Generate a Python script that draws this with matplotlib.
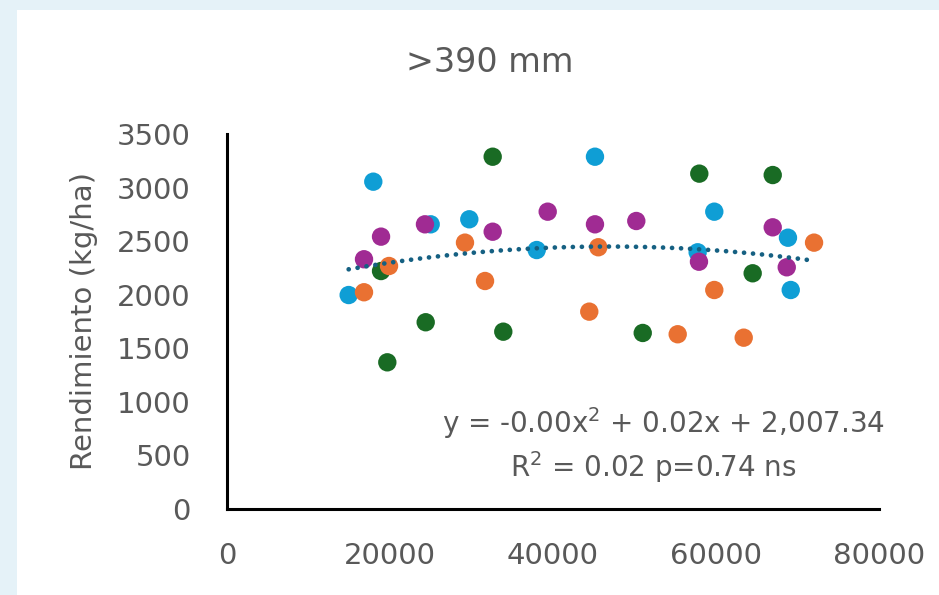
import numpy as np
import matplotlib.pyplot as plt
from matplotlib.patches import Rectangle

# Rendimiento (kg/ha) vs densidad, four groups
blue_x = [14930, 17950, 24990, 29730, 38000, 45150, 59790, 57750, 68830, 69170]
blue_y = [1997, 3055, 2657, 2704, 2417, 3288, 2775, 2396, 2532, 2044]

green_x = [19670, 18900, 24380, 32600, 33900, 51010, 57950, 64500, 66960]
green_y = [1369, 2221, 1743, 3288, 1655, 1643, 3130, 2200, 3117]

orange_x = [16810, 19880, 29200, 31660, 44450, 45560, 55300, 59790, 63400, 72030]
orange_y = [2023, 2268, 2486, 2128, 1842, 2443, 1631, 2044, 1599, 2486]

purple_x = [16810, 18900, 24290, 32600, 39350, 45150, 50220, 57910, 66960, 68680]
purple_y = [2331, 2542, 2657, 2588, 2775, 2657, 2688, 2308, 2629, 2256]

title = ">390 mm"
ylabel = "Rendimiento (kg/ha)"
eq_text = "y = -0.00x$^{2}$ + 0.02x + 2,007.34"
r2_text = "R$^{2}$ = 0.02 p=0.74 ns"

gray = "#595959"
series = [
    (blue_x, blue_y, "#0F9ED5"),
    (green_x, green_y, "#196B24"),
    (orange_x, orange_y, "#E97132"),
    (purple_x, purple_y, "#A02B93"),
]

fig = plt.figure(figsize=(9.39, 5.95), dpi=100)
fig.patch.set_facecolor("white")
# light blue frame along the top and left
fig.patches.append(Rectangle((0, 1 - 10 / 595), 1, 10 / 595, transform=fig.transFigure,
                             facecolor="#E5F2F8", edgecolor="none", zorder=0))
fig.patches.append(Rectangle((0, 0), 17 / 939, 1, transform=fig.transFigure,
                             facecolor="#E5F2F8", edgecolor="none", zorder=0))

ax = fig.add_axes([227 / 939, 86 / 595, 652 / 939, 375 / 595])

for xs, ys, c in series:
    ax.scatter(xs, ys, s=175, color=c, edgecolors="none", zorder=3)

# quadratic trend over all points
all_x = np.array(blue_x + green_x + orange_x + purple_x, dtype=float)
all_y = np.array(blue_y + green_y + orange_y + purple_y, dtype=float)
coef = np.polyfit(all_x, all_y, 2)
xx = np.linspace(all_x.min(), all_x.max(), 200)
ax.plot(xx, np.polyval(coef, xx), color="#156082", lw=3.4,
        linestyle=(0, (0.01, 1.9)), dash_capstyle="round", zorder=4)

ax.set_xlim(0, 80000)
ax.set_ylim(0, 3500)
ax.set_xticks([0, 20000, 40000, 60000, 80000])
ax.set_yticks(range(0, 3501, 500))
ax.tick_params(length=0, labelsize=21, colors=gray)
ax.tick_params(axis="x", pad=24)
ax.tick_params(axis="y", pad=26)
for side in ["top", "right"]:
    ax.spines[side].set_visible(False)
for side in ["left", "bottom"]:
    ax.spines[side].set_linewidth(2.2)
    ax.spines[side].set_color("black")

ax.set_ylabel(ylabel, fontsize=21, color=gray, labelpad=14)
fig.text(490 / 939, 1 - 63 / 595, title, fontsize=24, color=gray, ha="center", va="center")

ax.text(664 / 939, 1 - 423 / 595, eq_text, transform=fig.transFigure, fontsize=20,
        color=gray, ha="center", va="center")
ax.text(653 / 939, 1 - 467 / 595, r2_text, transform=fig.transFigure, fontsize=20,
        color=gray, ha="center", va="center")

fig.savefig("out.png", dpi=100)
